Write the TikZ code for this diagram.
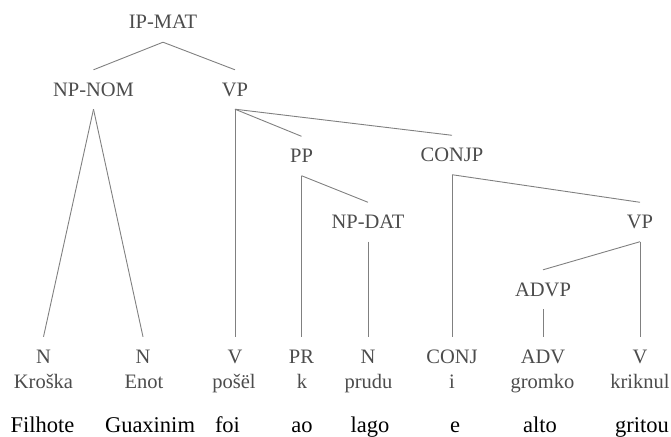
\documentclass[tikz,border=0pt]{standalone}
\usepackage{fontspec}
\setmainfont{Liberation Serif}
\usetikzlibrary{positioning}
\definecolor{LabelGray}{gray}{0.3}
\definecolor{BranchGray}{gray}{0.5}

\begin{document}
\begin{tikzpicture}[
    x=1pt, y=-1pt,
    cat/.style={text=LabelGray, font=\rmfamily\fontsize{20.5}{22}\selectfont, inner xsep=0pt, inner ysep=13pt,
        text height=13pt, text depth=0pt},
    word/.style={text=LabelGray, font=\rmfamily\fontsize{20.5}{22}\selectfont, inner sep=0pt, anchor=base},
    gloss/.style={text=black, font=\rmfamily\fontsize{22.5}{24}\selectfont, inner sep=0pt, anchor=base},
    branch/.style={draw=BranchGray, line width=0.9pt},
]
\useasboundingbox (0,0) rectangle (671,436);

% ---- phrase nodes ----
\node[cat] (ipmat) at (163,22.5) {IP-MAT};
\node[cat] (npnom) at (93.5,89.5) {NP-NOM};
\node[cat] (vp) at (235,89.5) {VP};
\node[cat] (pp) at (301.5,156) {PP};
\node[cat] (conjp) at (452,155) {CONJP};
\node[cat] (npdat) at (368,222) {NP-DAT};
\node[cat] (vpb) at (640,222) {VP};
\node[cat] (advp) at (543,289.5) {ADVP};

% ---- terminal categories ----
\node[cat] (n1) at (43.5,356.5) {N};
\node[cat] (n2) at (143,356.5) {N};
\node[cat] (v1) at (235,356.5) {V};
\node[cat] (pr) at (301.5,356.5) {PR};
\node[cat] (n3) at (368,356.5) {N};
\node[cat] (conj) at (452,356.5) {CONJ};
\node[cat] (adv) at (543,356.5) {ADV};
\node[cat] (v2) at (640,356.5) {V};

% ---- russian words ----
\node[word] (w1) at (43.5,388) {Kroška};
\node[word] (w2) at (144,388) {Enot};
\node[word] (w3) at (234,388) {pošël};
\node[word] (w4) at (302,388) {k};
\node[word] (w5) at (368.5,388) {prudu};
\node[word] (w6) at (452,388) {i};
\node[word] (w7) at (542.5,388) {gromko};
\node[word] (w8) at (640,388) {kriknul};

% ---- glosses ----
\node[gloss] (g1) at (42.5,432) {Filhote};
\node[gloss] (g2) at (150,432) {Guaxinim};
\node[gloss] (g3) at (227.5,432) {foi};
\node[gloss] (g4) at (302,432) {ao};
\node[gloss] (g5) at (370,432) {lago};
\node[gloss] (g6) at (455,432) {e};
\node[gloss] (g7) at (540,432) {alto};
\node[gloss] (g8) at (642,432) {gritou};

% ---- branches ----
\draw[branch] (ipmat.south) -- (npnom.north);
\draw[branch] (ipmat.south) -- (vp.north);
\draw[branch] (npnom.south) -- (n1.north);
\draw[branch] (npnom.south) -- (n2.north);
\draw[branch] (vp.south) -- (v1.north);
\draw[branch] (vp.south) -- (pp.north);
\draw[branch] (vp.south) -- (conjp.north);
\draw[branch] (pp.south) -- (pr.north);
\draw[branch] (pp.south) -- (npdat.north);
\draw[branch] (npdat.south) -- (n3.north);
\draw[branch] (conjp.south) -- (conj.north);
\draw[branch] (conjp.south) -- (vpb.north);
\draw[branch] (vpb.south) -- (advp.north);
\draw[branch] (vpb.south) -- (v2.north);
\draw[branch] (advp.south) -- (adv.north);

\end{tikzpicture}
\end{document}
